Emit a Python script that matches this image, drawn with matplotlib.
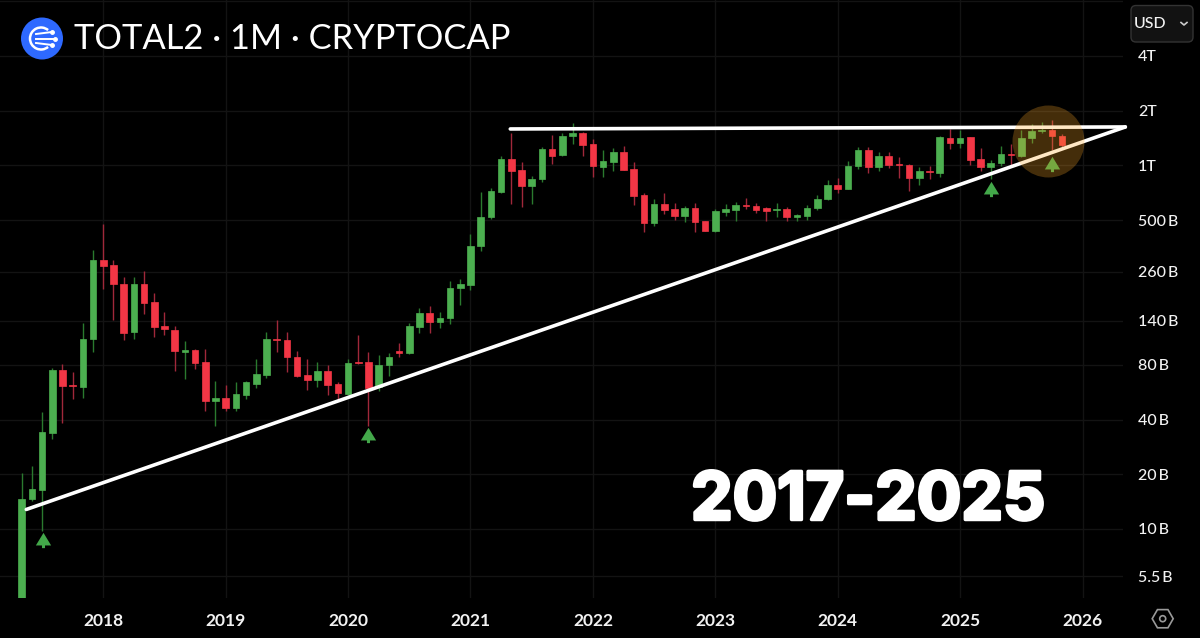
import numpy as np
import matplotlib
matplotlib.use("Agg")
import matplotlib.pyplot as plt
import matplotlib.patheffects as pe
from matplotlib.patches import Arc, Circle, FancyBboxPatch, RegularPolygon
from matplotlib.path import Path
from matplotlib.ticker import NullLocator

# monthly candles in billions USD, May 2017 to Nov 2025
opens = [3, 14.6, 16.4, 33.9, 74.6, 61.7, 60.7, 111, 303, 282, 223, 121, 223, 177, 130, 125, 94.5, 96.5, 82.6, 50.8,
         52.8, 46.3, 54.6, 63, 70.3, 111, 109, 88.7, 70, 66.3, 74, 62.8, 55.1, 82.6, 82.9, 60.7, 79.5, 95.3, 92.6, 129,
         155, 137, 144, 211, 219, 359, 523, 717, 1080, 940, 771, 839, 1230, 1140, 1460, 1510, 1320, 985, 1050, 1190,
         956, 691, 482, 616, 576, 529, 581, 493, 434, 557, 569, 606, 598, 581, 566, 574, 520, 529, 581, 651,
         781, 742, 989, 1210, 976, 1120, 1020, 1010, 857, 932, 913, 1420, 1330, 1430, 1080, 985, 1030, 1160, 1130, 1420,
         1550, 1570, 1460]
highs = [20.2, 22.3, 44.2, 77.2, 80.5, 72.8, 135, 343, 476, 301, 244, 244, 263, 198, 156, 130, 108, 98.2, 97.4, 64.9,
         61.7, 64.1, 65.5, 86.1, 121, 142, 121, 95.3, 86.1, 82.6, 79.5, 64.6, 86.1, 117, 93.7, 90.6, 93.3, 105, 135, 164,
         168, 156, 232, 237, 418, 711, 755, 1120, 1500, 1040, 871, 1260, 1470, 1510, 1720, 1530, 1400, 1210, 1250, 1280,
         1050, 702, 651, 705, 621, 598, 621, 495, 578, 616, 627, 665, 624, 588, 621, 593, 538, 606, 688, 828,
         853, 1060, 1270, 1270, 1180, 1190, 1110, 1020, 976, 993, 1450, 1590, 1570, 1440, 1250, 1070, 1280, 1320, 1570, 1700,
         1740, 1780, 1480]
lows = [2.9, 14.3, 9.79, 31.4, 38.5, 51.9, 52.3, 94.5, 208, 141, 110, 111, 152, 114, 117, 74, 66.9, 75.6, 44.8, 36.9,
        44.4, 44.4, 51.9, 59.9, 68, 93.7, 73.4, 68.3, 58.2, 60.7, 54.6, 52.1, 54.6, 80.9, 36.9, 57.7, 69.5, 88, 92.2, 119,
        120, 128, 134, 171, 206, 337, 507, 702, 616, 593, 611, 814, 1020, 1120, 1320, 1130, 864, 864, 928, 944,
        603, 430, 466, 543, 501, 489, 430, 434, 432, 527, 497, 574, 550, 497, 523, 497, 497, 499, 569, 648,
        702, 739, 956, 909, 932, 964, 857, 727, 781, 846, 864, 1230, 1250, 1010, 928, 842, 997, 1010, 1110, 1330,
        1500, 1210, 1230]
closes = [14.7, 16.5, 34.0, 74.6, 61.4, 61.2, 111, 303, 281, 222, 119, 223, 176, 129, 126, 94.9, 96.1, 82.2, 50.8, 52.6,
          46.3, 55.1, 64.1, 70.9, 111, 109, 88.4, 69.7, 66.3, 74.0, 62.2, 55.8, 81.9, 81.9, 59.7, 80.2, 88.0, 93.3, 130, 155,
          137, 145, 213, 222, 362, 523, 727, 1080, 928, 774, 846, 1230, 1130, 1460, 1510, 1300, 997, 1060, 1190, 948,
          682, 482, 616, 569, 529, 581, 489, 436, 562, 574, 603, 601, 569, 564, 576, 518, 534, 586, 654, 777,
          742, 997, 1220, 976, 1130, 1010, 1010, 857, 936, 916, 1430, 1330, 1420, 1070, 985, 1030, 1150, 1140, 1420, 1550,
          1570, 1460, 1300]

y_ticks = [5.5, 10, 20, 40, 80, 140, 260, 500, 1000, 2000, 4000]
y_labels = ["5.5\u2009B", "10\u2009B", "20\u2009B", "40\u2009B", "80\u2009B", "140\u2009B", "260\u2009B", "500\u2009B", "1T", "2T", "4T"]
year_pos = [8, 20, 32, 44, 56, 68, 80, 92, 104]
year_labels = ["2018", "2019", "2020", "2021", "2022", "2023", "2024", "2025", "2026"]

# hand drawn annotations
support_x = [0.45, 108.2]
support_y = [12.8, 1628]
resist_x = [47.9, 108.2]
resist_y = [1587, 1628]
arrow_x = [2.1, 34, 95, 101]
arrow_y = [8.7, 32.9, 742, 1018]

GREEN = "#4caf50"
RED = "#f23645"
GRID = "#131313"

fig = plt.figure(figsize=(12, 6.38), dpi=100, facecolor="black")
ax = fig.add_axes([0, 40 / 638, 1123 / 1200, 598 / 638], facecolor="black")
ax.set_yscale("log")

opens_a, closes_a = np.array(opens), np.array(closes)
x = np.arange(len(opens))
up = closes_a >= opens_a

ax.vlines(x, lows, highs, colors=np.where(up, "#2a7a2e", "#a0283a"), lw=1, zorder=2)
ax.bar(x, np.abs(closes_a - opens_a), bottom=np.minimum(opens_a, closes_a), width=0.66,
       color=np.where(up, GREEN, RED), edgecolor=np.where(up, GREEN, RED), lw=0.5, zorder=3)

ax.plot(support_x, support_y, color="white", lw=2.6, solid_capstyle="round", clip_on=False, zorder=4)
ax.plot(resist_x, resist_y, color="white", lw=2.6, solid_capstyle="round", clip_on=False, zorder=4)

arrow = Path([(-1, -0.65), (0, 1), (1, -0.65), (0.2, -0.65), (0.2, -1), (-0.2, -1), (-0.2, -0.65), (-1, -0.65)], closed=True)
ax.plot(arrow_x, arrow_y, ls="none", marker=arrow, ms=11, color="#43a84a", mew=0, zorder=5)

# highlight around the last candles
ax.scatter([100.6], [1363], s=(72 * 0.72) ** 2, color="#ffa726", alpha=0.27, lw=0, zorder=6)

ax.set_xlim(-2.127, 107.97)
ax.set_ylim(4.17, 8130)
ax.yaxis.set_minor_locator(NullLocator())
ax.yaxis.tick_right()
ax.set_yticks(y_ticks, y_labels)
ax.set_xticks(year_pos, year_labels)
ax.grid(True, color=GRID, lw=1)
ax.set_axisbelow(True)
ax.axhline(8000, color=GRID, lw=1)
for side in ax.spines.values():
    side.set_visible(False)
ax.tick_params(axis="y", length=0, pad=10.8, labelsize=11.5, labelcolor="#f2f2f2")
ax.tick_params(axis="x", length=0, pad=11, labelcolor="#f2f2f2")
for lab in ax.get_yticklabels():
    lab.set_family(["Lato", "DejaVu Sans"])
    lab.set_weight("medium")
for lab in ax.get_xticklabels():
    lab.set_family("Lato")
    lab.set_weight("bold")
    lab.set_fontsize(12.5)

# overlay in picture pixels for header, badge and icons
ov = fig.add_axes([0, 0, 1, 1], facecolor="none")
ov.set_xlim(0, 1200)
ov.set_ylim(638, 0)
ov.axis("off")

ov.add_patch(Circle((42, 38.5), 21, color="#2e69ff", lw=0))
ov.add_patch(Arc((41, 38.5), 22, 22, theta1=50, theta2=310, color="white", lw=1.8))
for y0, y1, x1 in ((34, 32, 52), (38.5, 38.5, 55), (43, 45, 52)):
    ov.plot([36, x1], [y0, y1], color="white", lw=1.4)
    ov.plot([x1], [y1], "o", color="white", ms=2.5)

ov.text(74, 39, "TOTAL2 · 1M · CRYPTOCAP", color="white", family="Lato", fontsize=24.8, va="center", ha="left")

ov.text(691, 502, "2017-2025", color="white", family="Inter", weight="bold", fontsize=47.6,
        va="center", ha="left", path_effects=[pe.withStroke(linewidth=2.5, foreground="white")])

ov.add_patch(FancyBboxPatch((1134, 8.5), 56, 30.5, boxstyle="round,pad=3,rounding_size=5",
                            fc="#121212", ec="#333333", lw=1))
ov.text(1150.5, 23.5, "USD", color="#f2f2f2", family="Lato", weight="medium", fontsize=11.5, va="center", ha="center")
ov.plot([1181, 1184, 1187], [22.5, 25, 22.5], color="#cccccc", lw=1.2)

ov.add_patch(RegularPolygon((1162.7, 618.7), 6, radius=10.5, orientation=np.pi / 6, fc="none", ec="#9a9a9a", lw=1.2))
ov.add_patch(Circle((1162.7, 618.7), 3, fc="none", ec="#9a9a9a", lw=1.2))

fig.savefig("out.png", dpi=100, facecolor="black")
